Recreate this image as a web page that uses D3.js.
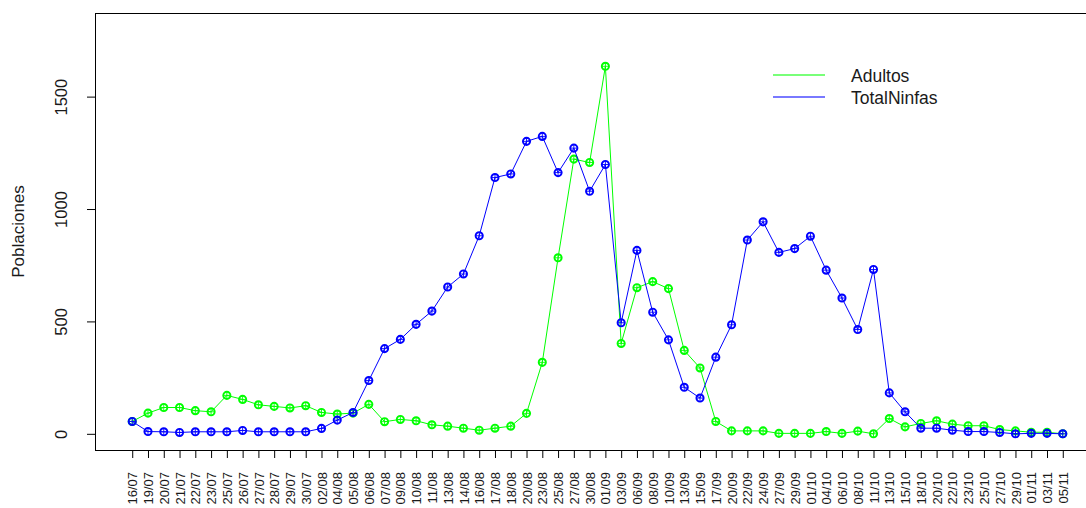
<!DOCTYPE html>
<html>
<head>
<meta charset="utf-8">
<script src="https://cdn.jsdelivr.net/npm/d3@7"></script>
<style>
  html, body { margin: 0; padding: 0; background: #fff; }
  svg { display: block; font-family: "Liberation Sans", Arial, sans-serif; }
</style>
</head>
<body>
<svg id="chart" width="1086" height="508"></svg>
<script>
// Sampling dates (dd/mm)
const fechas = ["16/07","19/07","20/07","21/07","22/07","23/07","25/07","26/07","27/07","28/07",
  "29/07","30/07","02/08","04/08","05/08","06/08","07/08","09/08","10/08","11/08",
  "13/08","14/08","16/08","17/08","18/08","20/08","23/08","25/08","27/08","30/08",
  "01/09","03/09","06/09","08/09","10/09","13/09","15/09","17/09","20/09","22/09",
  "24/09","27/09","29/09","01/10","04/10","06/10","08/10","11/10","13/10","15/10",
  "18/10","20/10","22/10","23/10","25/10","27/10","29/10","01/11","03/11","05/11"];

// Population counts per date
const adultos = [55,92,117,117,103,98,171,153,129,122,
  115,125,95,88,92,131,54,64,58,40,
  34,25,16,25,34,91,318,783,1222,1207,
  1635,402,650,677,646,371,293,55,13,13,
  13,2,2,2,10,2,12,0,68,31,
  46,58,43,36,36,19,13,7,7,0];

const totalNinfas = [55,10,9,6,9,9,9,15,9,9,
  9,9,24,61,95,237,379,420,487,546,
  653,711,881,1140,1156,1301,1323,1162,1271,1079,
  1198,494,816,541,418,207,159,341,485,862,
  943,807,824,879,728,604,464,731,182,98,
  25,25,16,10,10,6,0,2,2,0];

const yTicks = [0, 500, 1000, 1500];
const yLimits = [0, 1800];

const series = [
  { name: "Adultos", values: adultos, color: "#00ff00" },
  { name: "TotalNinfas", values: totalNinfas, color: "#0000ff" }
];

const svg = d3.select("#chart");
const plot = { left: 95, top: 13, right: 1100, bottom: 450 };

// Axis ranges padded by 4% on each side
const n = fechas.length;
const xPad = (n - 1) * 0.04;
const x = d3.scaleLinear()
  .domain([1 - xPad, n + xPad])
  .range([plot.left, plot.right]);

const yPad = (yLimits[1] - yLimits[0]) * 0.04;
const y = d3.scaleLinear()
  .domain([yLimits[0] - yPad, yLimits[1] + yPad])
  .range([plot.bottom, plot.top]);

const textColor = "#1a1a1a";

// Y axis
const yAxis = svg.append("g")
  .attr("transform", `translate(${plot.left},0)`)
  .call(d3.axisLeft(y).tickValues(yTicks).tickSize(8).tickFormat(d3.format("d")));
yAxis.select(".domain").remove();
yAxis.selectAll(".tick line").attr("stroke", "#000");
yAxis.selectAll(".tick text")
  .attr("x", null).attr("dy", null)
  .attr("transform", "translate(-28,0) rotate(-90)")
  .attr("text-anchor", "middle")
  .attr("font-size", 16.5)
  .attr("font-family", "Liberation Sans, Arial, sans-serif")
  .attr("fill", textColor);

// X axis with rotated date labels
const xAxis = svg.append("g")
  .attr("transform", `translate(0,${plot.bottom})`)
  .call(d3.axisBottom(x)
    .tickValues(d3.range(1, n + 1))
    .tickSize(8)
    .tickFormat(i => fechas[i - 1]));
xAxis.select(".domain").remove();
xAxis.selectAll(".tick line").attr("stroke", "#000");
xAxis.selectAll(".tick text")
  .attr("transform", "rotate(-90)")
  .attr("x", -22)
  .attr("y", 4.6)
  .attr("dy", null)
  .attr("text-anchor", "end")
  .attr("font-size", 13)
  .attr("font-family", "Liberation Sans, Arial, sans-serif")
  .attr("fill", textColor);

// Y axis title
svg.append("text")
  .attr("transform", `translate(24,${(plot.top + plot.bottom) / 2}) rotate(-90)`)
  .attr("text-anchor", "middle")
  .attr("font-size", 17)
  .attr("fill", textColor)
  .text("Poblaciones");

// Plot frame
svg.append("rect")
  .attr("x", plot.left + 0.5).attr("y", plot.top + 0.5)
  .attr("width", plot.right - plot.left).attr("height", plot.bottom - plot.top)
  .attr("fill", "none").attr("stroke", "#000").attr("stroke-width", 1);

// Lines with circle-plus markers
const line = d3.line()
  .x((d, i) => x(i + 1))
  .y(d => y(d));

series.forEach(s => {
  const g = svg.append("g");
  g.append("path")
    .datum(s.values)
    .attr("d", line)
    .attr("fill", "none")
    .attr("stroke", s.color)
    .attr("stroke-width", 1);

  const pts = g.selectAll("g.pt")
    .data(s.values)
    .join("g")
    .attr("class", "pt")
    .attr("transform", (d, i) => `translate(${x(i + 1)},${y(d)})`);
  pts.append("circle")
    .attr("r", 3.6)
    .attr("fill", "none")
    .attr("stroke", s.color)
    .attr("stroke-width", 1.9);
  pts.append("path")
    .attr("d", "M-3.6,0H3.6M0,-3.6V3.6")
    .attr("stroke", s.color)
    .attr("stroke-width", 0.9);
});

// Legend
const legend = svg.append("g");
series.forEach((s, k) => {
  const ly = 75 + k * 22;
  legend.append("line")
    .attr("x1", 773).attr("x2", 825)
    .attr("y1", ly).attr("y2", ly)
    .attr("stroke", s.color)
    .attr("stroke-opacity", 0.7)
    .attr("stroke-width", 1.5);
  legend.append("text")
    .attr("x", 851).attr("y", ly + 7)
    .attr("font-size", 17.5)
    .attr("fill", textColor)
    .text(s.name);
});
</script>
</body>
</html>
